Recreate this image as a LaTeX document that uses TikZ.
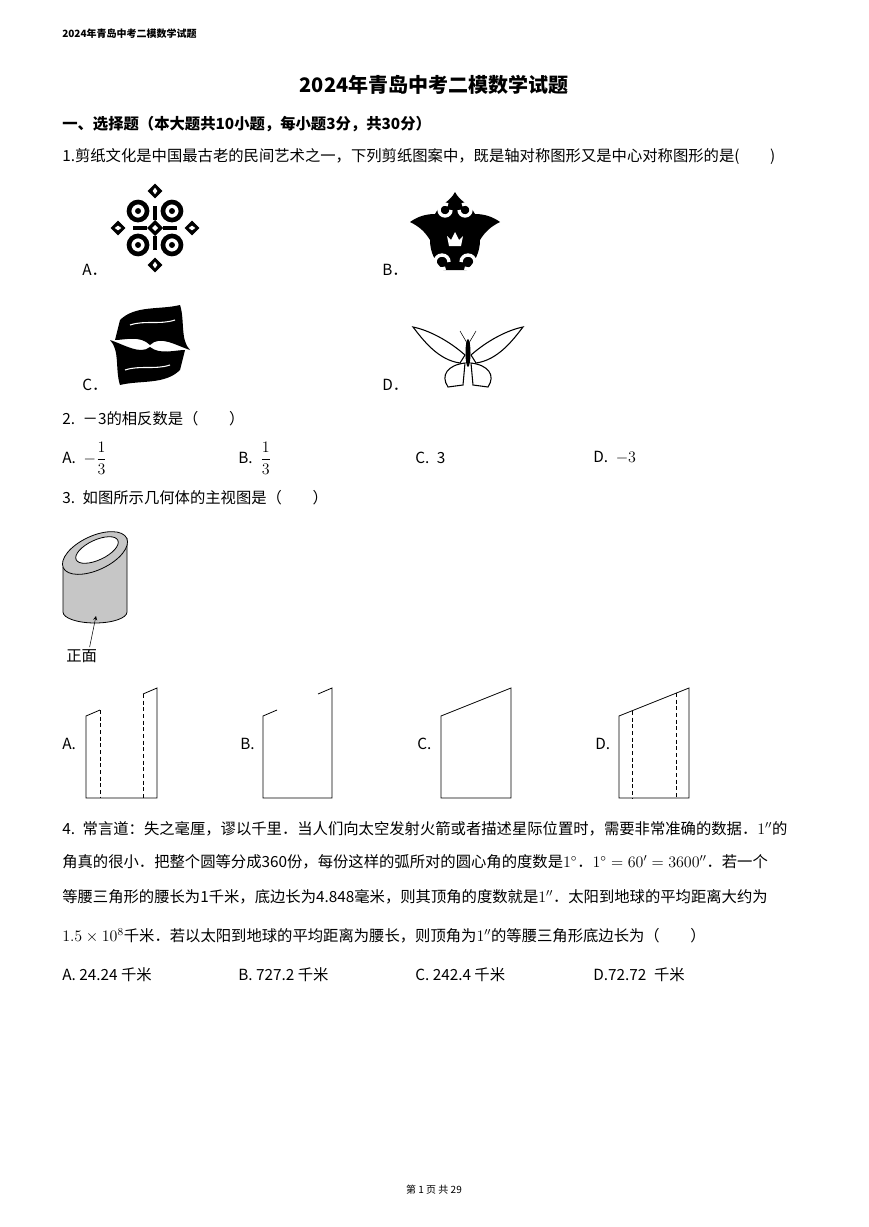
\documentclass[tikz,border=0pt]{standalone}
\usepackage{fontspec}
\setmainfont{Liberation Serif}
\newfontfamily\cjk{Noto Sans CJK SC}
\newcommand\gapq{\hspace*{2em}}
\newcommand\gapn{\hspace*{0.5em}}
\tikzset{txt/.style={anchor=west, inner sep=0pt, font=\cjk\fontsize{11.5}{14}\selectfont},
  hdr/.style={anchor=west, inner sep=0pt, font=\cjk\bfseries\fontsize{7.5}{9}\selectfont},
  view/.style={semithick, black},
  hid/.style={semithick, black, dash pattern=on 3pt off 2pt},
  cut/.style={fill=black, draw=black}}

\begin{document}
\begin{tikzpicture}[x=0.75pt, y=-0.75pt]
  \useasboundingbox (0,0) rectangle (868,1227);
  \fill[white] (0,0) rectangle (868,1227);
  % header and title
  \node[hdr] (head) at (62,34) {2024年青岛中考二模数学试题};
  \node[font=\cjk\bfseries\fontsize{15}{18}\selectfont] (title) at (434,85) {2024年青岛中考二模数学试题};
  \node[txt, font=\cjk\bfseries\fontsize{11.5}{14}\selectfont] (sec) at (62,124) {一、选择题（本大题共10小题，每小题3分，共30分）};
  % question 1
  \node[txt] (q1) at (62,157) {1.剪纸文化是中国最古老的民间艺术之一，下列剪纸图案中，既是轴对称图形又是中心对称图形的是(\gapq)};
  \node[txt] (q1a) at (82,270) {A．};
  \node[txt] (q1b) at (382,270) {B．};
  \node[txt] (q1c) at (82,385) {C．};
  \node[txt] (q1d) at (382,385) {D．};
  % A: ornament
  \begin{scope}[shift={(155,228)}]
    \foreach \a in {0,90,180,270}{
      \begin{scope}[rotate=\a]
        \draw[cut, even odd rule] (0,-44) -- (7,-37) -- (0,-30) -- (-7,-37) -- cycle (0,-41) -- (3,-37) -- (0,-33) -- (-3,-37) -- cycle;
        \draw[black, line width=3pt] (0,-8) -- (0,-22);
      \end{scope}}
    \foreach \a in {45,135,225,315}{
      \begin{scope}[rotate=\a]
        \draw[black, line width=3.5pt] (0,-24) circle [radius=9];
        \fill[black] (0,-24) circle [radius=3];
      \end{scope}}
    \fill[black] (0,-8) -- (8,0) -- (0,8) -- (-8,0) -- cycle;
    \fill[white] (0,-3) -- (3,0) -- (0,3) -- (-3,0) -- cycle;
  \end{scope}
  % B: ornament
  \begin{scope}[shift={(455,232)}]
    \fill[black] (0,-40) .. controls (5,-30) and (15,-28) .. (20,-18) .. controls (30,-18) and (38,-15) .. (45,-10)
      .. controls (35,-5) and (30,0) .. (25,8) .. controls (25,20) and (20,30) .. (12,38) -- (-12,38)
      .. controls (-20,30) and (-25,20) .. (-25,8) .. controls (-30,0) and (-35,-5) .. (-45,-10)
      .. controls (-38,-15) and (-30,-18) .. (-20,-18) .. controls (-15,-28) and (-5,-30) .. cycle;
    \draw[white, line width=2.5pt] (-4,-22) arc (0:300:6) (4,-22) arc (180:-120:6);
    \draw[white, line width=2.5pt] (-6,30) arc (0:-300:7) (6,30) arc (180:480:7);
    \fill[white] (0,0) -- (4,8) -- (8,4) -- (6,14) -- (-6,14) -- (-8,4) -- (-4,8) -- cycle;
  \end{scope}
  % C: fish pair
  \begin{scope}[shift={(150,345)}]
    \fill[black] (-30,-25) .. controls (-15,-40) and (10,-35) .. (30,-40) .. controls (35,-25) and (30,-5) .. (40,5)
      .. controls (25,0) and (10,-10) .. (0,0) .. controls (-10,-10) and (-25,-5) .. (-35,-5) -- cycle;
    \fill[black] (30,25) .. controls (15,40) and (-10,35) .. (-30,40) .. controls (-35,25) and (-30,5) .. (-40,-5)
      .. controls (-25,0) and (-10,10) .. (0,2) .. controls (10,10) and (25,5) .. (35,5) -- cycle;
    \draw[white, thick] (-20,-20) .. controls (-5,-25) and (10,-20) .. (25,-25) (20,20) .. controls (5,25) and (-10,20) .. (-25,25);
  \end{scope}
  % D: butterfly
  \begin{scope}[shift={(468,355)}]
    \draw[thick] (-3,0) .. controls (-20,-15) and (-40,-25) .. (-55,-28) .. controls (-45,-15) and (-30,5) .. (-8,8) -- cycle;
    \draw[thick] (3,0) .. controls (20,-15) and (40,-25) .. (55,-28) .. controls (45,-15) and (30,5) .. (8,8) -- cycle;
    \draw[thick] (-3,8) .. controls (-20,10) and (-28,20) .. (-20,32) -- (-5,30) -- cycle;
    \draw[thick] (3,8) .. controls (20,10) and (28,20) .. (20,32) -- (5,30) -- cycle;
    \fill (0,-2) ellipse [x radius=2.5, y radius=14];
    \draw (-1,-12) -- (-8,-24) (1,-12) -- (8,-24);
  \end{scope}
  % question 2
  \node[txt] (q2) at (62,419) {2.\gapn －3的相反数是（\gapq）};
  \node[txt] (q2a) at (62,458) {A.\gapn$\displaystyle-\frac{1}{3}$};
  \node[txt] (q2b) at (238,458) {B.\gapn$\displaystyle\frac{1}{3}$};
  \node[txt] (q2c) at (415,458) {C.\gapn 3};
  \node[txt] (q2d) at (593,458) {D.\gapn $-3$};
  % question 3
  \node[txt] (q3) at (62,498) {3.\gapn 如图所示几何体的主视图是（\gapq）};
  \fill[gray!45] (63,567) -- (127,538) -- (127,612) arc [start angle=0, end angle=180, x radius=32, y radius=11] -- cycle;
  \draw[view] (63,567) -- (63,612) arc [start angle=180, end angle=0, x radius=32, y radius=11] -- (127,538);
  \draw[view, fill=gray!45] (95,553) ellipse [x radius=35, y radius=17, rotate=25];
  \draw[view, fill=white] (97,550) ellipse [x radius=23, y radius=10, rotate=25];
  \node[txt] (front) at (66,656) {正面};
  \coordinate (fronttip) at (96,616);
  \draw[-stealth] (front.north) ++(8,-2) -- (fronttip);
  \node[txt] (q3a) at (62,744) {A.};
  \node[txt] (q3b) at (240,744) {B.};
  \node[txt] (q3c) at (417,744) {C.};
  \node[txt] (q3d) at (595,744) {D.};
  % A view
  \draw[view] (100,710) -- (86,716) -- (86,798) -- (157,798) -- (157,688) -- (143,694);
  \draw[hid] (100,710) -- (100,798) (143,694) -- (143,798);
  % B view
  \draw[view] (277,710) -- (263,716) -- (263,798) -- (332,798) -- (332,688) -- (318,694);
  % C view
  \draw[view] (441,716) -- (441,798) -- (511,798) -- (511,688) -- cycle;
  % D view
  \draw[view] (619,716) -- (619,798) -- (689,798) -- (689,688) -- cycle;
  \draw[hid] (632,711) -- (632,798) (676,693) -- (676,798);
  % question 4
  \node[txt] (q4l1) at (62,829) {4.\gapn 常言道：失之毫厘，谬以千里．当人们向太空发射火箭或者描述星际位置时，需要非常准确的数据．$1''$的};
  \node[txt] (q4l2) at (62,862) {角真的很小．把整个圆等分成360份，每份这样的弧所对的圆心角的度数是$1^\circ$．$1^\circ=60'=3600''$．若一个};
  \node[txt] (q4l3) at (62,897) {等腰三角形的腰长为1千米，底边长为4.848毫米，则其顶角的度数就是$1''$．太阳到地球的平均距离大约为};
  \node[txt] (q4l4) at (62,936) {$1.5\times10^8$千米．若以太阳到地球的平均距离为腰长，则顶角为$1''$的等腰三角形底边长为（\gapq）};
  \node[txt] (q4a) at (62,975) {A. 24.24 千米};
  \node[txt] (q4b) at (238,975) {B. 727.2 千米};
  \node[txt] (q4c) at (415,975) {C. 242.4 千米};
  \node[txt] (q4d) at (593,975) {D.72.72\gapn 千米};
  % footer
  \node[font=\cjk\fontsize{7.5}{9}\selectfont] (foot) at (434,1190) {第\ 1\ 页\ 共\ 29};
\end{tikzpicture}
\end{document}
